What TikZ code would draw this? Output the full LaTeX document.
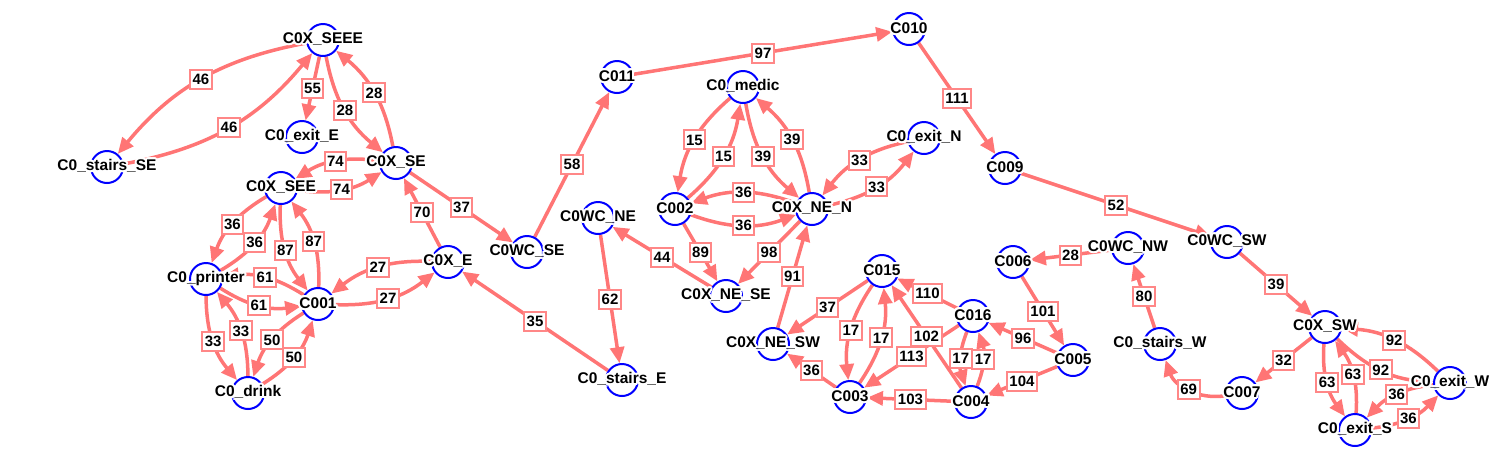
\documentclass[tikz,border=0pt]{standalone}
\usepackage{fontspec}
\setmainfont{Liberation Sans}
\usepackage{contour}
\contourlength{2pt}
\contournumber{16}
\usetikzlibrary{arrows.meta, backgrounds}

\definecolor{edgered}{RGB}{255,117,117}
\definecolor{boxred}{RGB}{255,135,135}
\definecolor{ringblue}{RGB}{0,0,255}
\newcommand{\halo}[1]{\contour{white}{#1}}

\tikzset{
  place/.style={circle, draw=ringblue, line width=2pt, minimum size=32pt, inner sep=0pt},
  route/.style={color=edgered, line width=3.5pt, -{Triangle[length=16pt,width=14pt,fill=edgered]}},
  wt/.style={rectangle, draw=boxred, fill=white, line width=2pt, inner xsep=2.5pt, inner ysep=0pt,
    minimum height=19pt, text=black, font=\bfseries\fontsize{15}{15}\selectfont},
  tag/.style={inner sep=0pt, text=black, font=\bfseries\fontsize{15.5}{16}\selectfont}
}

\begin{document}
\begin{tikzpicture}[x=1pt, y=1pt]
  \useasboundingbox (0,0) rectangle (1494,-459);
  % rooms and corridors
  \node [place, label={[tag]center:\halo{C0X\_SEEE}}] (SEEE) at (323,-40) {};
  \node [place, label={[tag]center:\halo{C0\_stairs\_SE}}] (stairsSE) at (107,-167) {};
  \node [place, label={[tag]center:\halo{C0\_exit\_E}}] (exitE) at (302,-137) {};
  \node [place, label={[tag]center:\halo{C0X\_SE}}] (XSE) at (396,-163) {};
  \node [place, label={[tag]center:\halo{C0X\_SEE}}] (XSEE) at (281,-188) {};
  \node [place, label={[tag]center:\halo{C0\_printer}}] (printer) at (206,-279) {};
  \node [place, label={[tag]center:\halo{C001}}] (C001) at (318,-304) {};
  \node [place, label={[tag]center:\halo{C0\_drink}}] (drink) at (248,-393) {};
  \node [place, label={[tag]center:\halo{C0X\_E}}] (XE) at (448,-262) {};
  \node [place, label={[tag]center:\halo{C0WC\_SE}}] (WCSE) at (527,-252) {};
  \node [place, label={[tag]center:\halo{C0WC\_NE}}] (WCNE) at (598,-218) {};
  \node [place, label={[tag]center:\halo{C0\_stairs\_E}}] (stairsE) at (622,-380) {};
  \node [place, label={[tag]center:\halo{C011}}] (C011) at (617,-77) {};
  \node [place, label={[tag]center:\halo{C010}}] (C010) at (909,-29) {};
  \node [place, label={[tag]center:\halo{C0\_medic}}] (medic) at (743,-87) {};
  \node [place, label={[tag]center:\halo{C0\_exit\_N}}] (exitN) at (924,-138) {};
  \node [place, label={[tag]center:\halo{C002}}] (C002) at (675,-209) {};
  \node [place, label={[tag]center:\halo{C0X\_NE\_N}}] (NEN) at (812,-209) {};
  \node [place, label={[tag]center:\halo{C0X\_NE\_SE}}] (NESE) at (726,-296) {};
  \node [place, label={[tag]center:\halo{C0X\_NE\_SW}}] (NESW) at (773,-344) {};
  \node [place, label={[tag]center:\halo{C015}}] (C015) at (882,-271) {};
  \node [place, label={[tag]center:\halo{C016}}] (C016) at (973,-316) {};
  \node [place, label={[tag]center:\halo{C003}}] (C003) at (850,-397) {};
  \node [place, label={[tag]center:\halo{C004}}] (C004) at (971,-402) {};
  \node [place, label={[tag]center:\halo{C009}}] (C009) at (1005,-168) {};
  \node [place, label={[tag]center:\halo{C0WC\_SW}}] (WCSW) at (1227,-242) {};
  \node [place, label={[tag]center:\halo{C006}}] (C006) at (1013,-262) {};
  \node [place, label={[tag]center:\halo{C0WC\_NW}}] (WCNW) at (1128,-248) {};
  \node [place, label={[tag]center:\halo{C005}}] (C005) at (1073,-360) {};
  \node [place, label={[tag]center:\halo{C0\_stairs\_W}}] (stairsW) at (1160,-344) {};
  \node [place, label={[tag]center:\halo{C007}}] (C007) at (1242,-393) {};
  \node [place, label={[tag]center:\halo{C0X\_SW}}] (XSW) at (1325,-327) {};
  \node [place, label={[tag]center:\halo{C0\_exit\_W}}] (exitW) at (1450,-383) {};
  \node [place, label={[tag]center:\halo{C0\_exit\_S}}] (exitS) at (1355,-430) {};

  % weighted links, kept under the rooms
  \begin{pgfonlayer}{background}
  \path[route]
    (SEEE) edge [bend right=20] node[wt] {46} (stairsSE)
           edge node[wt] {55} (exitE)
           edge [bend right=20] node[wt] {28} (XSE)
    (stairsSE) edge [bend right=20] node[wt] {46} (SEEE)
    (XSE) edge [bend right=20] node[wt] {28} (SEEE)
          edge [bend right=20] node[wt] {74} (XSEE)
          edge node[wt] {37} (WCSE)
    (XSEE) edge [bend right=20] node[wt] {74} (XSE)
           edge [bend right=20] node[wt] {36} (printer)
           edge [bend right=20] node[wt] {87} (C001)
    (printer) edge [bend right=20] node[wt] {36} (XSEE)
              edge [bend right=20] node[wt] {61} (C001)
              edge [bend right=20] node[wt] {33} (drink)
    (C001) edge [bend right=20] node[wt] {87} (XSEE)
           edge [bend right=20] node[wt] {61} (printer)
           edge [bend right=20] node[wt] {50} (drink)
           edge [bend right=20] node[wt] {27} (XE)
    (drink) edge [bend right=20] node[wt] {33} (printer)
            edge [bend right=20] node[wt] {50} (C001)
    (XE) edge node[wt] {70} (XSE)
         edge [bend right=20] node[wt] {27} (C001)
    (stairsE) edge node[wt] {35} (XE)
    (WCSE) edge node[wt] {58} (C011)
    (C011) edge node[wt] {97} (C010)
    (C010) edge node[wt] {111} (C009)
    (C009) edge node[wt] {52} (WCSW)
    (WCSW) edge node[wt] {39} (XSW)
    (WCNE) edge node[wt] {62} (stairsE)
    (NESE) edge node[wt] {44} (WCNE)
    (medic) edge [bend right=20] node[wt] {15} (C002)
            edge [bend right=20] node[wt] {39} (NEN)
    (C002) edge [bend right=20] node[wt] {15} (medic)
           edge [bend right=20] node[wt] {36} (NEN)
           edge node[wt] {89} (NESE)
    (NEN) edge [bend right=20] node[wt] {39} (medic)
          edge [bend right=20] node[wt] {33} (exitN)
          edge [bend right=20] node[wt] {36} (C002)
          edge node[wt] {98} (NESE)
    (exitN) edge [bend right=20] node[wt] {33} (NEN)
    (NESW) edge node[wt] {91} (NEN)
    (C015) edge node[wt] {37} (NESW)
           edge [bend right=20] node[wt] {17} (C003)
    (C003) edge node[wt] {36} (NESW)
           edge [bend right=20] node[wt] {17} (C015)
    (C016) edge node[wt] {110} (C015)
           edge node[wt] {113} (C003)
           edge [bend right=20] node[wt] {17} (C004)
    (C004) edge node[wt] {102} (C015)
           edge [bend right=20] node[wt] {17} (C016)
           edge node[wt] {103} (C003)
    (C005) edge node[wt] {96} (C016)
           edge node[wt] {104} (C004)
    (C006) edge node[wt] {101} (C005)
    (WCNW) edge node[wt] {28} (C006)
    (stairsW) edge node[wt] {80} (WCNW)
    (C007) edge [bend left=40] node[wt] {69} (stairsW)
    (XSW) edge node[wt] {32} (C007)
          edge [bend right=20] node[wt] {92} (exitW)
          edge [bend right=20] node[wt] {63} (exitS)
    (exitW) edge [bend right=20] node[wt] {92} (XSW)
            edge [bend right=20] node[wt] {36} (exitS)
    (exitS) edge [bend right=20] node[wt] {63} (XSW)
            edge [bend right=20] node[wt] {36} (exitW);
  \end{pgfonlayer}
\end{tikzpicture}
\end{document}
